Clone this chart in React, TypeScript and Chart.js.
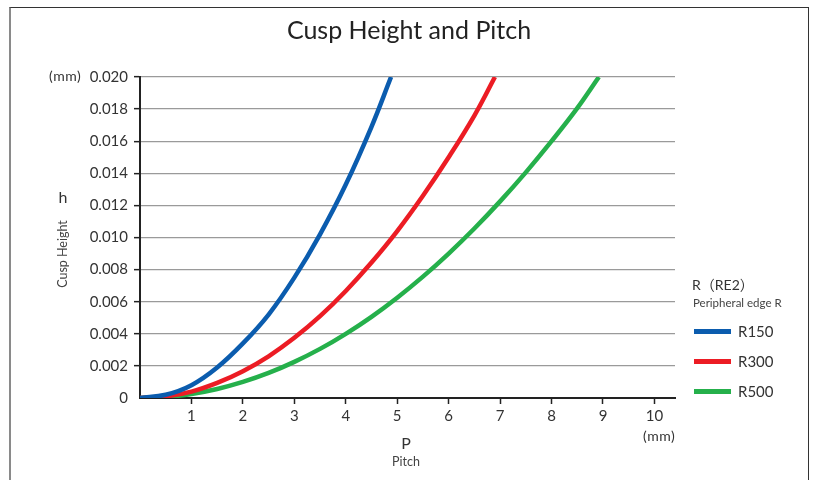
import React, { useEffect, useRef } from "react";
import { Chart, registerables } from "chart.js";

Chart.register(...registerables);

const seriesNames = ["R150", "R300", "R500"];
const seriesColors = ["#0b5cae", "#ec1c24", "#25b04b"];

const pitchR150 = [0, 0.5, 1, 1.5, 2, 2.5, 3, 3.5, 4, 4.5, 4.88];
const heightR150 = [0, 0.0002, 0.0008, 0.0019, 0.0034, 0.0052, 0.0075, 0.0102, 0.0133, 0.0169, 0.02];

const pitchR300 = [0, 0.5, 1, 1.5, 2, 2.5, 3, 3.5, 4, 4.5, 5, 5.5, 6, 6.5, 6.9];
const heightR300 = [0, 0.0001, 0.0004, 0.00094, 0.00167, 0.0026, 0.00375, 0.0051, 0.00667, 0.00844, 0.0104, 0.0126, 0.015, 0.0176, 0.02];

const pitchR500 = [0, 0.5, 1, 1.5, 2, 2.5, 3, 3.5, 4, 4.5, 5, 5.5, 6, 6.5, 7, 7.5, 8, 8.5, 8.92];
const heightR500 = [0, 0.00006, 0.00025, 0.00056, 0.001, 0.00156, 0.00225, 0.00306, 0.004, 0.00506, 0.00625, 0.00756, 0.009, 0.01056, 0.01225, 0.01406, 0.016, 0.01806, 0.02];

const xTickValues = [1, 2, 3, 4, 5, 6, 7, 8, 9, 10];
const yTickValues = [0, 0.002, 0.004, 0.006, 0.008, 0.01, 0.012, 0.014, 0.016, 0.018, 0.02];

const FONT = 'Lato, "Noto Sans CJK JP", sans-serif';

const pitches = [pitchR150, pitchR300, pitchR500];
const heights = [heightR150, heightR300, heightR500];

export default function App() {
  const ref = useRef<HTMLCanvasElement | null>(null);

  useEffect(() => {
    document.body.style.margin = "0";
    const canvas = ref.current;
    if (!canvas) return;
    Chart.defaults.font.family = FONT;
    const chart = new Chart(canvas, {
      type: "line",
      data: {
        datasets: seriesNames.map((name, i) => ({
          label: name,
          data: pitches[i].map((p, j) => ({ x: p, y: heights[i][j] })),
          borderColor: seriesColors[i],
          backgroundColor: seriesColors[i],
          borderWidth: 4.5,
          pointRadius: 0,
          fill: false,
          tension: 0.4,
        })),
      },
      options: {
        animation: false,
        responsive: false,
        layout: { padding: { top: 77, right: 139, left: 0, bottom: 0 } },
        plugins: { legend: { display: false }, title: { display: false }, tooltip: { enabled: false } },
        scales: {
          x: {
            type: "linear",
            min: 0,
            max: 10.4,
            afterBuildTicks: (s: any) => {
              s.ticks = xTickValues.map((v) => ({ value: v }));
            },
            afterFit: (s: any) => {
              s.height = 82;
            },
            ticks: { font: { size: 15 }, color: "#333", padding: 3 },
            grid: { drawOnChartArea: false, tickLength: 6, tickColor: "#222", tickWidth: 1.5 },
            border: { color: "#222", width: 2 },
          },
          y: {
            type: "linear",
            min: 0,
            max: 0.02,
            afterBuildTicks: (s: any) => {
              s.ticks = yTickValues.map((v) => ({ value: v }));
            },
            afterFit: (s: any) => {
              s.width = 140;
            },
            ticks: {
              font: { size: 15 },
              color: "#333",
              padding: 6,
              callback: (v: any) => (Number(v) === 0 ? "0" : Number(v).toFixed(3)),
            },
            grid: {
              color: (c: any) => (c.tick && c.tick.value === 0 ? "rgba(0,0,0,0)" : "#9a9a9a"),
              lineWidth: 1.3,
              tickLength: 6,
              tickWidth: 1.5,
              tickColor: (c: any) => (c.tick && c.tick.value === 0 ? "rgba(0,0,0,0)" : "#222"),
            },
            border: { color: "#222", width: 2 },
          },
        },
      },
    });
    return () => chart.destroy();
  }, []);

  const txt = (style: React.CSSProperties): React.CSSProperties => ({
    position: "absolute",
    fontFamily: FONT,
    color: "#333",
    whiteSpace: "nowrap",
    lineHeight: 1,
    ...style,
  });

  return (
    <div style={{ position: "relative", width: 814, height: 480, overflow: "hidden", background: "#fff" }}>
      <canvas ref={ref} width={814} height={480} style={{ position: "absolute", left: 0, top: 0 }} />
      <div
        style={{
          position: "absolute",
          left: 9,
          top: 7,
          width: 800,
          height: 520,
          borderTop: "1.5px solid #333",
          borderLeft: "2px solid #8a8a8a",
          borderRight: "1.5px solid #333",
          boxSizing: "border-box",
          pointerEvents: "none",
        }}
      />
      <div style={txt({ left: 0, width: 818, top: 17, textAlign: "center", fontSize: 25, color: "#222" })}>
        Cusp Height and Pitch
      </div>
      <div style={txt({ left: 49, top: 69, fontSize: 14, letterSpacing: 0.5 })}>(mm)</div>
      <div style={txt({ left: 43, width: 40, top: 189, textAlign: "center", fontSize: 16 })}>h</div>
      <div
        style={txt({
          left: 63,
          top: 254,
          fontSize: 12.5,
          color: "#444",
          transform: "translate(-50%, -50%) rotate(-90deg)",
        })}
      >
        Cusp Height
      </div>
      <div style={txt({ left: 386, width: 40, top: 435, textAlign: "center", fontSize: 16 })}>P</div>
      <div style={txt({ left: 376, width: 60, top: 456, textAlign: "center", fontSize: 12.5, color: "#444" })}>
        Pitch
      </div>
      <div style={txt({ left: 643, top: 429, fontSize: 14, letterSpacing: 0.5 })}>(mm)</div>
      <div style={txt({ left: 692, top: 278, fontSize: 14 })}>R（RE2）</div>
      <div style={txt({ left: 693, top: 297, fontSize: 11.5, color: "#444" })}>Peripheral edge R</div>
      {seriesNames.map((name, i) => (
        <React.Fragment key={name}>
          <div
            style={{
              position: "absolute",
              left: 694,
              top: 328.5 + i * 30,
              width: 37,
              height: 5,
              background: seriesColors[i],
            }}
          />
          <div style={txt({ left: 738, top: 323.5 + i * 30, fontSize: 15 })}>{name}</div>
        </React.Fragment>
      ))}
    </div>
  );
}
